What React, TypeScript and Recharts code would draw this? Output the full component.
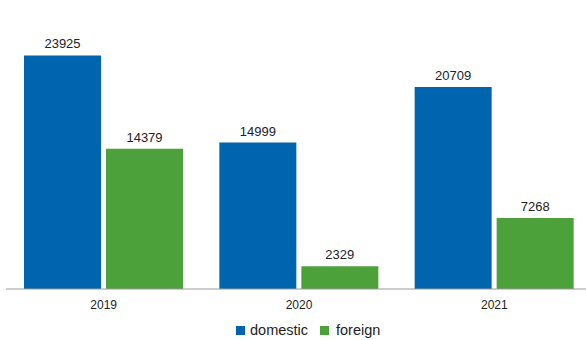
import { BarChart, Bar, XAxis, YAxis, Legend, LabelList } from 'recharts';

// Data
const years = ['2019', '2020', '2021'];
const domestic = [23925, 14999, 20709];
const foreign = [14379, 2329, 7268];

const data = years.map((year, i) => ({
  year,
  domestic: domestic[i],
  foreign: foreign[i],
}));

const BLUE = '#0064ae';
const GREEN = '#4da13b';
const FONT = '"Liberation Sans", Arial, sans-serif';

// Legend with small square swatches
const LegendContent = () => (
  <div
    style={{
      width: 592,
      height: 20,
      display: 'flex',
      justifyContent: 'flex-start',
      alignItems: 'center',
      paddingLeft: 236,
      boxSizing: 'border-box',
      fontFamily: FONT,
      fontSize: 14.5,
      color: '#222',
    }}
  >
    <span style={{ width: 9, height: 9, background: BLUE, marginRight: 5 }} />
    <span style={{ marginRight: 12 }}>domestic</span>
    <span style={{ width: 9, height: 9, background: GREEN, marginRight: 7 }} />
    <span>foreign</span>
  </div>
);

export default function App() {
  return (
    <div
      style={{
        position: 'absolute',
        left: 0,
        top: 0,
        width: 586,
        height: 340,
        overflow: 'hidden',
      }}
    >
      <BarChart
        width={592}
        height={340}
        data={data}
        margin={{ top: 45, right: 0, bottom: 0, left: 6 }}
        barCategoryGap={18}
        barGap={5}
      >
        <XAxis
          dataKey="year"
          height={31}
          tickLine={false}
          tickMargin={5}
          axisLine={{ stroke: '#9a9a9a' }}
          tick={{ fill: '#222', fontSize: 12, fontFamily: FONT }}
        />
        <YAxis hide domain={[0, 25000]} />
        <Legend
          verticalAlign="bottom"
          height={20}
          content={<LegendContent />}
          wrapperStyle={{ left: 0, width: 592 }}
        />
        <Bar dataKey="domestic" fill={BLUE} isAnimationActive={false}>
          <LabelList
            dataKey="domestic"
            position="top"
            offset={7}
            fill="#222"
            fontSize={13}
            fontFamily={FONT}
          />
        </Bar>
        <Bar dataKey="foreign" fill={GREEN} isAnimationActive={false}>
          <LabelList
            dataKey="foreign"
            position="top"
            offset={7}
            fill="#222"
            fontSize={13}
            fontFamily={FONT}
          />
        </Bar>
      </BarChart>
    </div>
  );
}
